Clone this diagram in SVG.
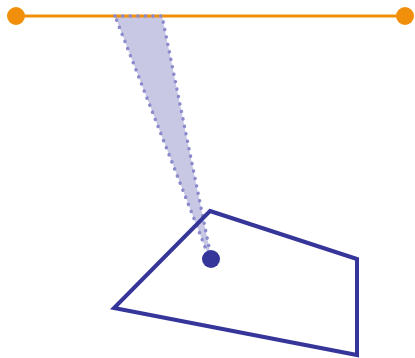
<svg xmlns="http://www.w3.org/2000/svg" width="415" height="358" viewBox="0 0 415 358">
<style>
.seg{stroke:#f0900a;stroke-width:3;fill:none}
.end{fill:#f0900a}
.conefill{fill:#c8c8e4;stroke:none}
.coneedge{fill:none;stroke:#8a8acc;stroke-width:3.5;stroke-dasharray:0.1 7.5;stroke-linecap:round;stroke-linejoin:round}
.poly{fill:none;stroke:#35359a;stroke-width:4;stroke-linejoin:miter}
.pt{fill:#35359a}
</style>
<defs><polygon id="conepts" points="115,16 162,16 210,252 207,252"/></defs>
<rect width="415" height="358" fill="#ffffff"/>
<g id="cone"><use href="#conepts" class="conefill"/></g>
<g id="connectors"><line class="seg" x1="16" y1="16" x2="405" y2="16"/></g>
<g id="cone-edge"><use href="#conepts" class="coneedge"/></g>
<g id="endA"><circle class="end" cx="16" cy="16" r="9"/></g>
<g id="endB"><circle class="end" cx="405" cy="16" r="9"/></g>
<g id="polygon"><polygon class="poly" points="210,211 357,259 357,355 114,308"/></g>
<g id="point"><circle class="pt" cx="211" cy="259" r="9"/></g>
</svg>
